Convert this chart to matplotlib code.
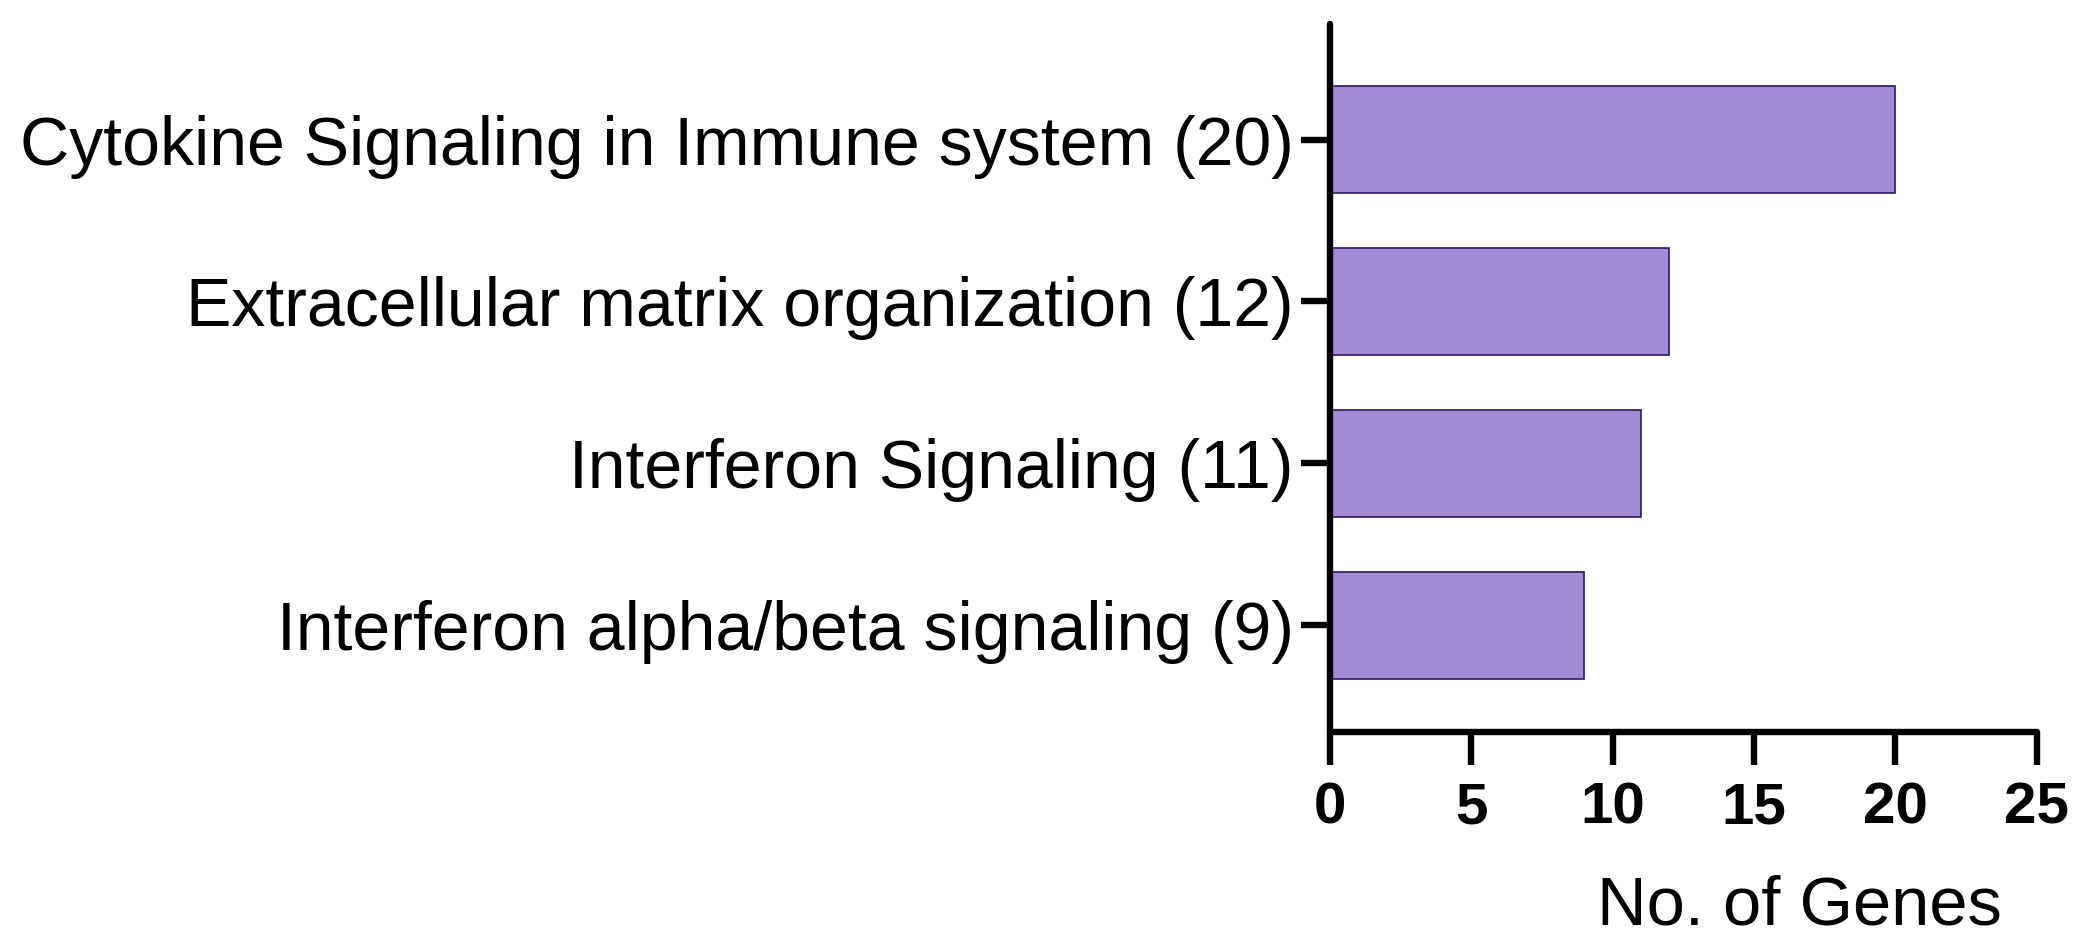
import matplotlib

matplotlib.use("Agg")
import matplotlib.pyplot as plt


pathways = [
    "Cytokine Signaling in Immune system (20)",
    "Extracellular matrix organization (12)",
    "Interferon Signaling (11)",
    "Interferon alpha/beta signaling (9)",
]
gene_counts = [20, 12, 11, 9]
x_ticks = [0, 5, 10, 15, 20, 25]

BAR_COLOR = "#a38ad4"
EDGE_COLOR = "#2e1a5e"


def main():
    fig = plt.figure(figsize=(20.88, 9.48), dpi=100)
    ax = fig.add_axes([0.637, 0.228, 0.3385, 0.747])

    positions = list(range(len(pathways)))
    ax.barh(positions, gene_counts, height=0.66, color=BAR_COLOR,
            edgecolor=EDGE_COLOR, linewidth=1.2, zorder=2)

    ax.set_ylim(3.657, -0.715)
    ax.set_xlim(0, 25)
    ax.set_yticks(positions)
    ax.set_yticklabels(pathways, fontsize=49, family=["Liberation Sans", "DejaVu Sans"])
    ax.set_xticks(x_ticks)
    ax.set_xticklabels([str(t) for t in x_ticks], fontsize=42, fontweight="bold",
                       family=["Liberation Sans", "DejaVu Sans"])

    for side in ["top", "right"]:
        ax.spines[side].set_visible(False)
    for side in ["left", "bottom"]:
        ax.spines[side].set_linewidth(4.6)
        ax.spines[side].set_capstyle("round")

    ax.tick_params(axis="y", length=21, width=4.6, pad=5)
    ax.tick_params(axis="x", length=24, width=4.6, pad=12)

    fig.text(0.862, 0.025, "No. of Genes", fontsize=49.5, ha="center", va="baseline",
             family=["Liberation Sans", "DejaVu Sans"])

    fig.savefig("out.png", dpi=100)
    plt.close(fig)


if __name__ == "__main__":
    main()
